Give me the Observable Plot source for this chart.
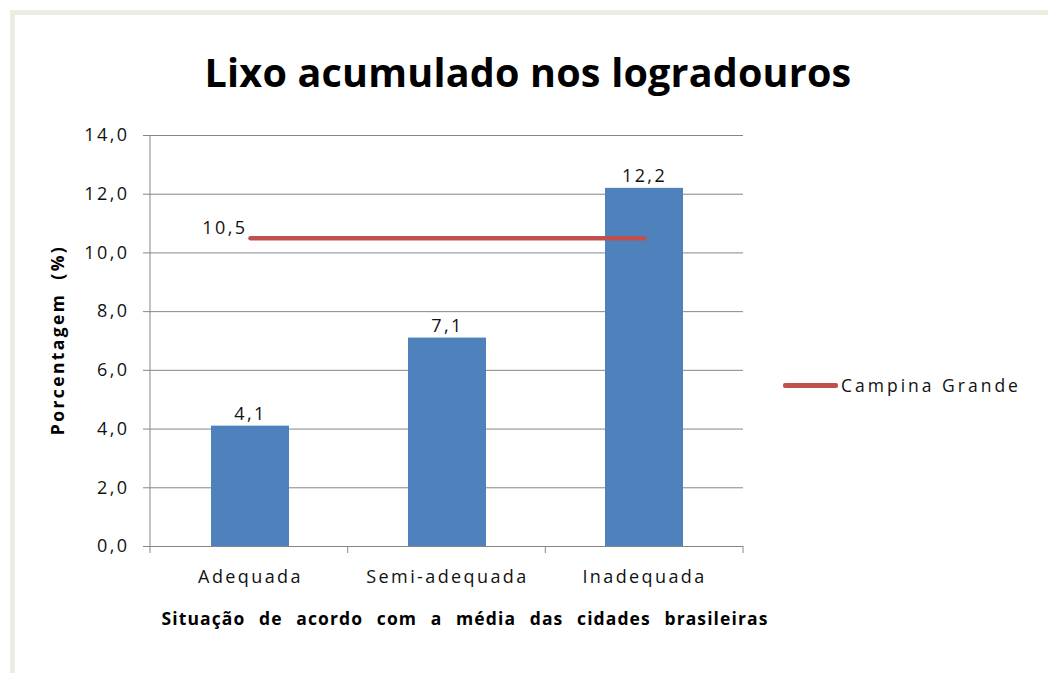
<!DOCTYPE html>
<html>
<head>
<meta charset="utf-8">
<script src="https://cdn.jsdelivr.net/npm/d3@7"></script>
<script src="https://cdn.jsdelivr.net/npm/@observablehq/plot@0.6"></script>
<style>
  html, body { margin: 0; padding: 0; background: #fff; }
  #wrap { position: relative; width: 1048px; height: 673px; overflow: hidden; font-family: "Open Sans", sans-serif; }
  #frame { position: absolute; left: 10px; top: 10px; width: 1040px; height: 670px; border-top: 5px solid #eeebe1; border-left: 5px solid #eeebe1; box-sizing: border-box; }
  #chart { position: absolute; left: 0; top: 0; }
  #chart svg text { letter-spacing: 2.4px; }
  .title { position: absolute; left: 0; width: 1056px; top: 45px; text-align: center; font-size: 39.5px; font-weight: 700; color: #000; letter-spacing: 0.2px; }
  .ylabel { position: absolute; left: 57px; top: 340px; transform: translate(-50%, -50%) rotate(-90deg); font-size: 17.5px; font-weight: 700; white-space: nowrap; color: #000; letter-spacing: 2.4px; word-spacing: 6px; }
  .xlabel { position: absolute; left: 0; width: 930px; top: 606px; text-align: center; font-size: 17.5px; font-weight: 700; white-space: nowrap; color: #000; word-spacing: 8px; letter-spacing: 1.1px; }
  .legend { position: absolute; left: 783px; top: 373px; display: flex; align-items: center; font-size: 17.5px; color: #111; letter-spacing: 3px; }
  .legend .sw { width: 55px; height: 5px; background: #c0504d; border-radius: 2px; margin-right: 3px; }
</style>
</head>
<body>
<div id="wrap">
  <div id="frame"></div>
  <div id="chart"></div>
  <div class="title">Lixo acumulado nos logradouros</div>
  <div class="ylabel">Porcentagem (%)</div>
  <div class="xlabel">Situação de acordo com a média das cidades brasileiras</div>
  <div class="legend"><div class="sw"></div><span>Campina Grande</span></div>
</div>
<script>
const categories = ["Adequada", "Semi-adequada", "Inadequada"];
const values = [4.1, 7.1, 12.2];
const campinaGrande = [10.5, 10.5, 10.5];
const yTicks = [0, 2, 4, 6, 8, 10, 12, 14];

const fmt = d => d.toFixed(1).replace(".", ",");
const bars = categories.map((c, i) => ({cat: c, value: values[i]}));
const line = categories.map((c, i) => ({cat: c, value: campinaGrande[i]}));

// Y axis line and category separator ticks below the x axis, computed from the layout
function axisLines(index, scales, values, dims, context) {
  const doc = context.document;
  const ns = "http://www.w3.org/2000/svg";
  const g = doc.createElementNS(ns, "g");
  const left = dims.marginLeft;
  const right = dims.width - dims.marginRight;
  const n = categories.length;
  const xs = d3.range(n + 1).map(k => left + k * (right - left) / n);
  const y0 = scales.y(0);
  const add = (x1, y1, x2, y2) => {
    const l = doc.createElementNS(ns, "line");
    l.setAttribute("x1", x1); l.setAttribute("x2", x2);
    l.setAttribute("y1", y1); l.setAttribute("y2", y2);
    l.setAttribute("stroke", "#868686");
    l.setAttribute("stroke-width", 1);
    g.appendChild(l);
  };
  for (const x of xs) add(x, y0, x, y0 + 7);
  add(left, scales.y(14), left, y0);
  return g;
}

const chart = Plot.plot({
  width: 1048,
  height: 673,
  marginLeft: 150,
  marginRight: 305,
  marginTop: 135,
  marginBottom: 127,
  style: {fontFamily: "'Open Sans', sans-serif", background: "transparent", color: "#111"},
  x: {domain: categories, paddingInner: 0.605, paddingOuter: 0.3025, label: null},
  y: {domain: [0, 14], label: null},
  marks: [
    Plot.ruleY(yTicks, {stroke: "#868686", strokeWidth: 1}),
    Plot.barY(bars, {x: "cat", y: "value", fill: "#4f81bd"}),
    Plot.line(line, {x: "cat", y: "value", stroke: "#c0504d", strokeWidth: 4.5, strokeLinecap: "round"}),
    Plot.text(bars, {x: "cat", y: "value", text: d => fmt(d.value), dy: -12, fontSize: 18, fill: "#111"}),
    Plot.text(line.slice(0, 1), {x: "cat", y: "value", text: d => fmt(d.value), textAnchor: "end", dx: -3, dy: -10, fontSize: 18, fill: "#111"}),
    Plot.axisY({ticks: yTicks, tickFormat: fmt, tickSize: 7, tickPadding: 14, fontSize: 18, stroke: "#868686", label: null}),
    Plot.axisX({tickSize: 0, tickPadding: 24, fontSize: 18, label: null}),
    axisLines
  ]
});
document.getElementById("chart").appendChild(chart);
</script>
</body>
</html>
